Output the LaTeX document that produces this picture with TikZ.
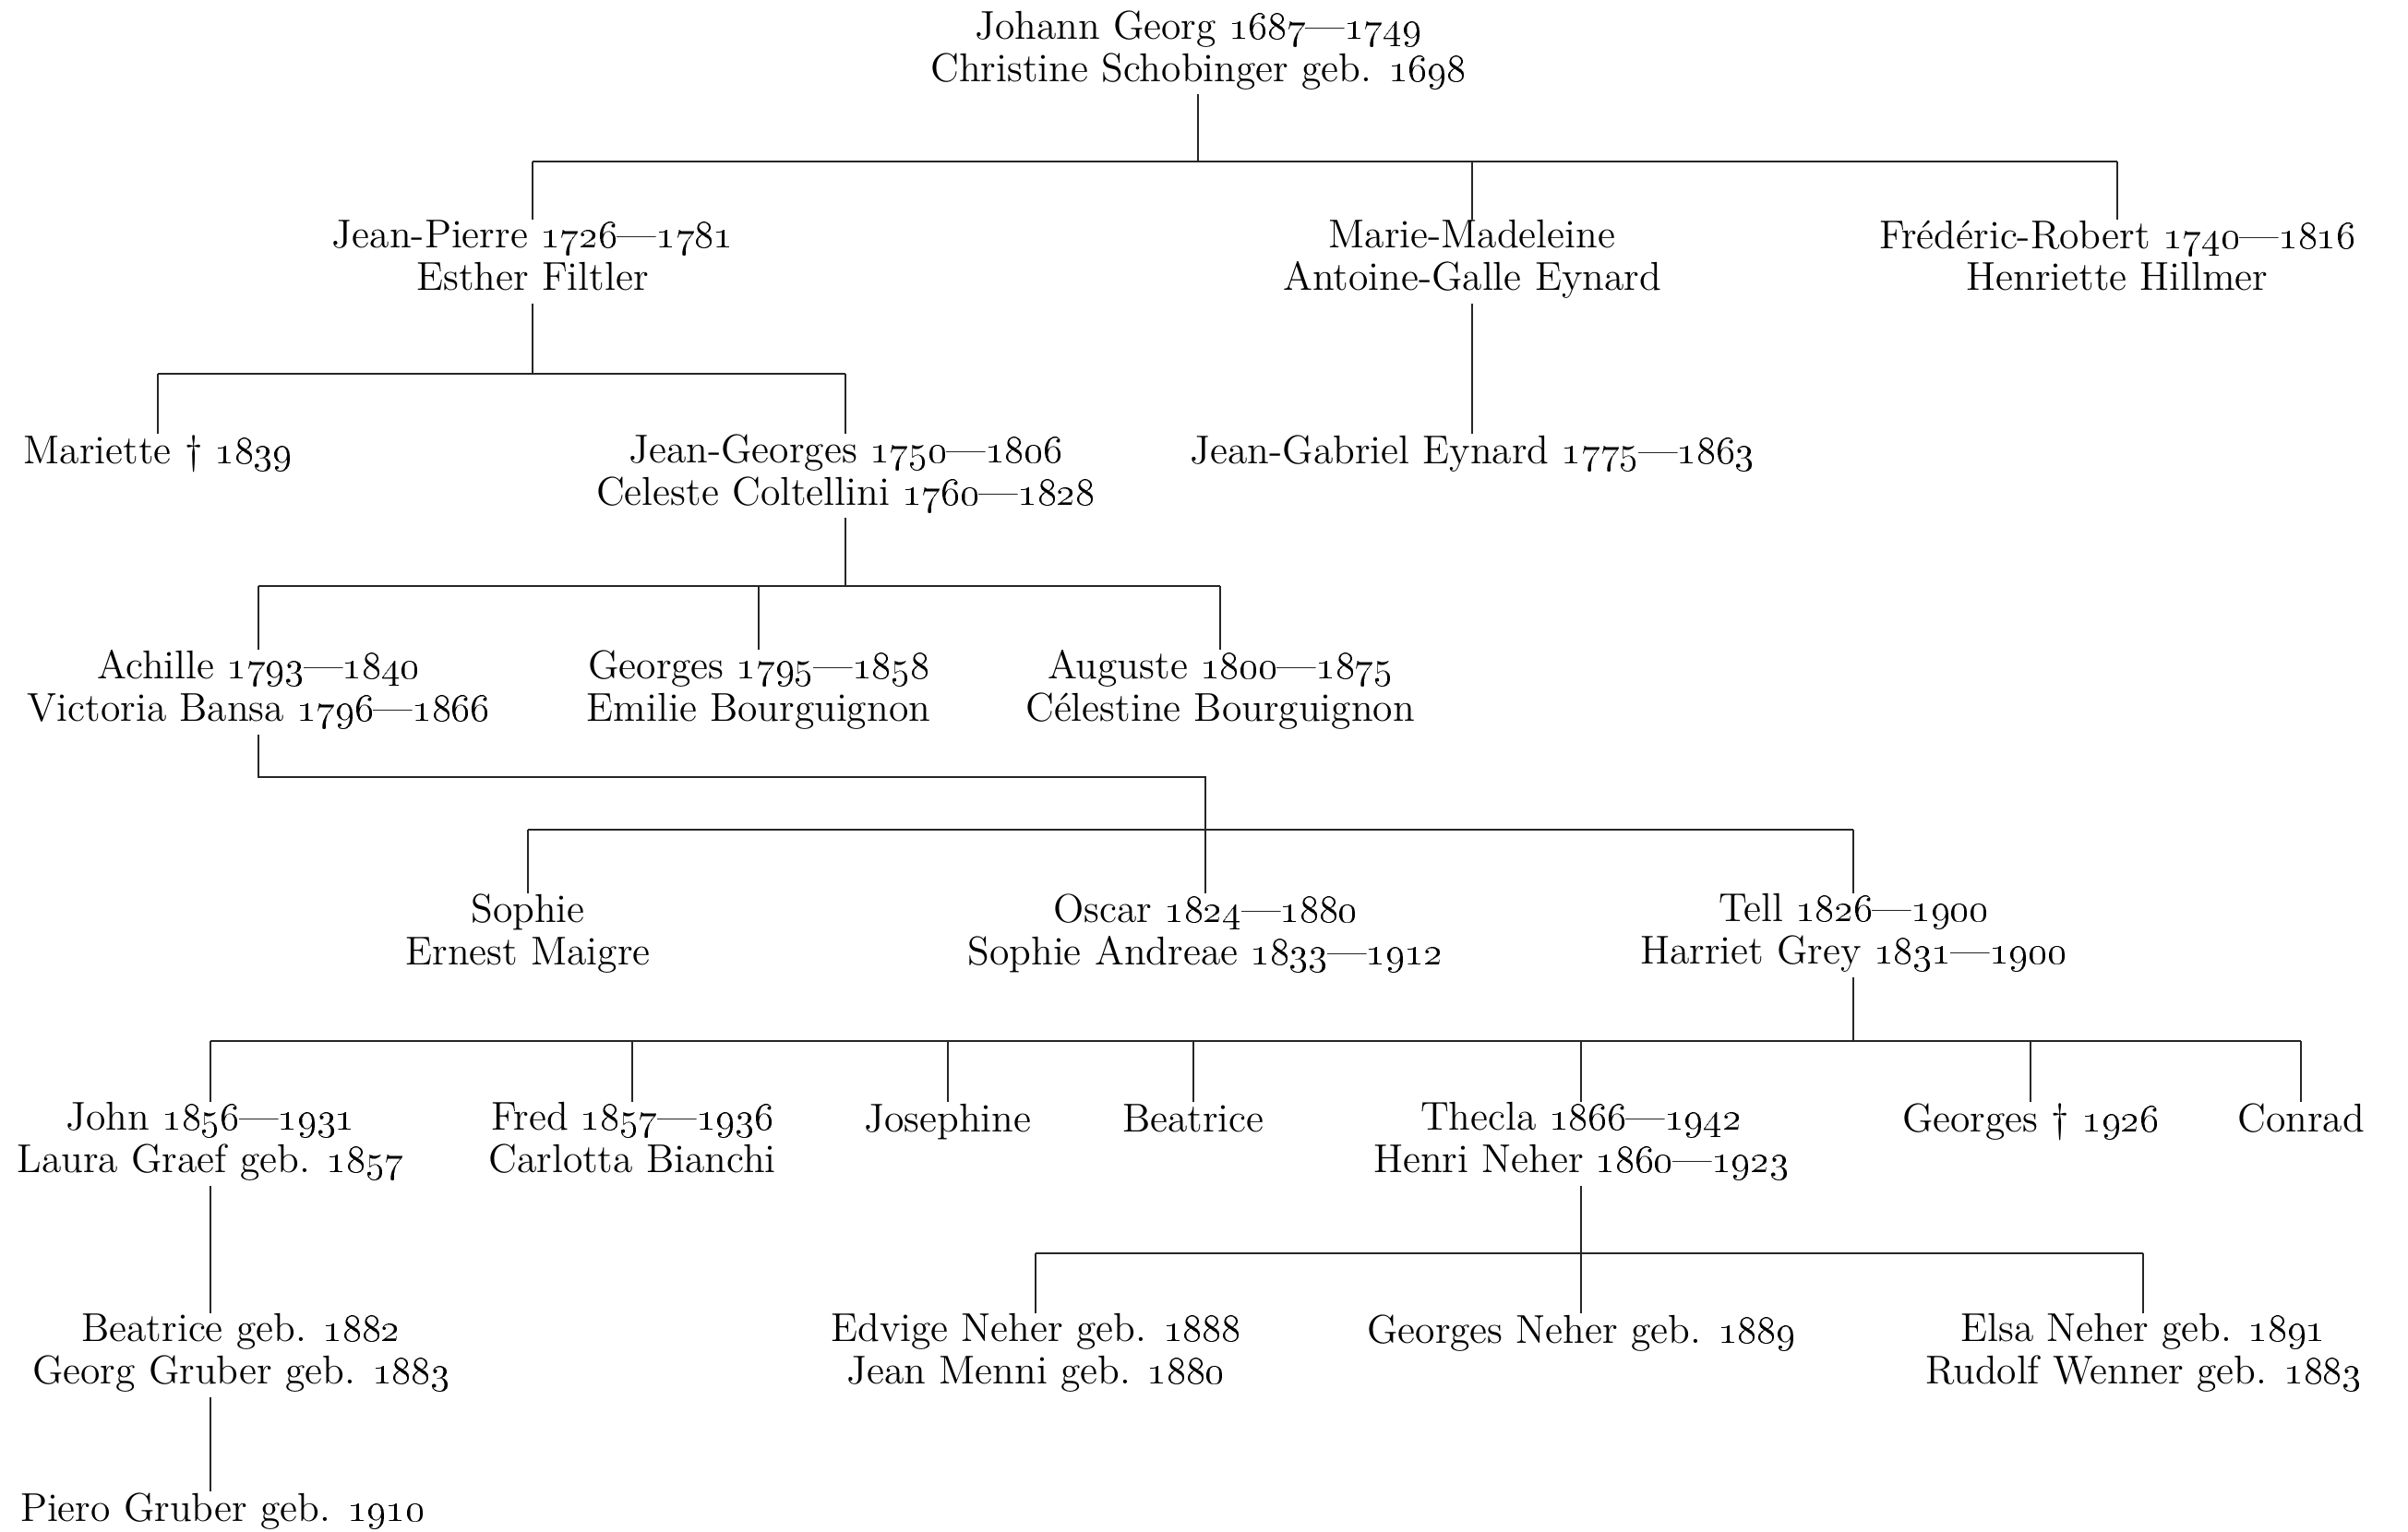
\documentclass[tikz,border=0pt]{standalone}
\usepackage{tikz}
\usetikzlibrary{positioning}

\newcommand{\yr}[1]{\oldstylenums{#1}}

\tikzset{
	person/.style={align=center, anchor=north, inner sep=0pt,
		font=\fontsize{12.4}{13}\selectfont,
		execute at begin node=\strut, execute at end node=\strut},
	link/.style={line width=0.45pt, black!85}
}

\begin{document}
\begin{tikzpicture}
	\useasboundingbox (0,0) rectangle (26.09,-16.60);

	\node[person] (johann) at (12.98,-0.11) {Johann Georg \yr{1687}---\yr{1749}\\Christine Schobinger geb. \yr{1698}};

	\node[person] (jpierre) at (5.77,-2.38) {Jean-Pierre \yr{1726}---\yr{1781}\\Esther Filtler};
	\node[person] (mmadeleine) at (15.95,-2.38) {Marie-Madeleine\\Antoine-Galle Eynard};
	\node[person] (frobert) at (22.94,-2.38) {Frédéric-Robert \yr{1740}---\yr{1816}\\Henriette Hillmer};

	\node[person] (mariette) at (1.71,-4.70) {Mariette \dag\ \yr{1839}};
	\node[person] (jgeorges) at (9.16,-4.70) {Jean-Georges \yr{1750}---\yr{1806}\\Celeste Coltellini \yr{1760}---\yr{1828}};
	\node[person, below=1.406cm of mmadeleine] (jgabriel) {Jean-Gabriel Eynard \yr{1775}---\yr{1863}};

	\node[person] (achille) at (2.80,-7.04) {Achille \yr{1793}---\yr{1840}\\Victoria Bansa \yr{1796}---\yr{1866}};
	\node[person] (georges) at (8.22,-7.04) {Georges \yr{1795}---\yr{1858}\\Emilie Bourguignon};
	\node[person] (auguste) at (13.22,-7.04) {Auguste \yr{1800}---\yr{1875}\\Célestine Bourguignon};

	\node[person] (sophie) at (5.72,-9.68) {Sophie\\Ernest Maigre};
	\node[person] (oscar) at (13.06,-9.68) {Oscar \yr{1824}---\yr{1880}\\Sophie Andreae \yr{1833}---\yr{1912}};
	\node[person] (tell) at (20.08,-9.68) {Tell \yr{1826}---\yr{1900}\\Harriet Grey \yr{1831}---\yr{1900}};

	\node[person] (john) at (2.28,-11.94) {John \yr{1856}---\yr{1931}\\Laura Graef geb. \yr{1857}};
	\node[person] (fred) at (6.85,-11.94) {Fred \yr{1857}---\yr{1936}\\Carlotta Bianchi};
	\node[person] (josephine) at (10.27,-11.94) {Josephine};
	\node[person] (beatrice) at (12.93,-11.94) {Beatrice};
	\node[person] (thecla) at (17.13,-11.94) {Thecla \yr{1866}---\yr{1942}\\Henri Neher \yr{1860}---\yr{1923}};
	\node[person] (georgesd) at (22.00,-11.94) {Georges \dag\ \yr{1926}};
	\node[person] (conrad) at (24.93,-11.94) {Conrad};

	\node[person] (bgeorg) at (2.61,-14.23) {Beatrice geb. \yr{1882}\\Georg Gruber geb. \yr{1883}};
	\node[person] (edvige) at (11.22,-14.23) {Edvige Neher geb. \yr{1888}\\Jean Menni geb. \yr{1880}};
	\node[person, below=1.376cm of thecla] (gneher) {Georges Neher geb. \yr{1889}};
	\node[person] (elsa) at (23.22,-14.23) {Elsa Neher geb. \yr{1891}\\Rudolf Wenner geb. \yr{1883}};

	\node[person, below=1.02cm of bgeorg, xshift=-0.2cm] (piero) {Piero Gruber geb. \yr{1910}};

	% bar heights
	\coordinate (bar1) at (0,-1.75);
	\coordinate (bar2) at (0,-4.05);
	\coordinate (bar3) at (0,-6.35);
	\coordinate (bar4) at (0,-8.42);
	\coordinate (bar5) at (0,-8.99);
	\coordinate (bar6) at (0,-11.28);
	\coordinate (bar7) at (0,-13.58);

	\draw[link] (johann) -- (johann |- bar1);
	\draw[link] (jpierre |- bar1) -- (frobert |- bar1);
	\foreach \n in {jpierre, mmadeleine, frobert}
		\draw[link] (\n) -- (\n |- bar1);

	\draw[link] (jpierre) -- (jpierre |- bar2);
	\draw[link] (mariette |- bar2) -- (jgeorges |- bar2);
	\foreach \n in {mariette, jgeorges}
		\draw[link] (\n) -- (\n |- bar2);
	\draw[link] (mmadeleine) -- (jgabriel);

	\draw[link] (jgeorges) -- (jgeorges |- bar3);
	\draw[link] (achille |- bar3) -- (auguste |- bar3);
	\foreach \n in {achille, georges, auguste}
		\draw[link] (\n) -- (\n |- bar3);

	\draw[link] (achille) -- (achille |- bar4) -- (oscar |- bar4) -- (oscar |- bar5);
	\draw[link] (sophie |- bar5) -- (tell |- bar5);
	\foreach \n in {sophie, oscar, tell}
		\draw[link] (\n) -- (\n |- bar5);

	\draw[link] (tell) -- (tell |- bar6);
	\draw[link] (john |- bar6) -- (conrad |- bar6);
	\foreach \n in {john, fred, josephine, beatrice, thecla, georgesd, conrad}
		\draw[link] (\n) -- (\n |- bar6);

	\draw[link] (john) -- (john |- bgeorg.north);
	\draw[link] (bgeorg.south -| john) -- (piero.north -| john);

	\draw[link] (thecla) -- (thecla |- bar7);
	\draw[link] (edvige |- bar7) -- (elsa |- bar7);
	\foreach \n in {edvige, gneher, elsa}
		\draw[link] (\n) -- (\n |- bar7);
\end{tikzpicture}
\end{document}
